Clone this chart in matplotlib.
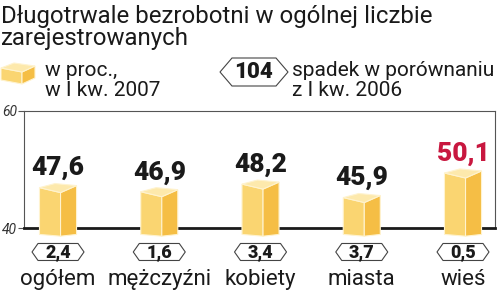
import matplotlib
matplotlib.use('Agg')
import matplotlib.pyplot as plt
import matplotlib.transforms as mtransforms
from matplotlib.patches import Polygon

plt.rcParams['font.family'] = ['Roboto', 'DejaVu Sans']

# data
categories = ['ogółem', 'mężczyźni', 'kobiety', 'miasta', 'wieś']
values = [47.6, 46.9, 48.2, 45.9, 50.1]
drops = [2.4, 1.6, 3.4, 3.7, 0.5]
label_colors = ['#1a1a1a', '#1a1a1a', '#1a1a1a', '#1a1a1a', '#c8173f']
y_ticks = [40, 60]

title_lines = ['Długotrwale bezrobotni w ogólnej liczbie', 'zarejestrowanych']
legend_bar_text = ['w proc.,', 'w I kw. 2007']
legend_hex_value = '104'
legend_hex_text = ['spadek w porównaniu', 'z I kw. 2006']

C_LEFT = '#fad571'
C_RIGHT = '#f5be45'
C_TOP = '#fde9ac'
C_EDGE = '#fff3cf'
INK = '#1a1a1a'

W, H = 500, 292
fig = plt.figure(figsize=(W / 100, H / 100), dpi=100)


def px(x, y):
    return (x / W, 1 - y / H)


def hexagon(w, h, inset):
    # vertices in inches (1 px = 0.01 in)
    w, h, inset = w / 200, h / 200, inset / 100
    return [(-w, 0), (-w + inset, h), (w - inset, h), (w, 0),
            (w - inset, -h), (-w + inset, -h)]


ax = fig.add_axes([px(24, 0)[0], px(0, 228)[1], (495 - 24) / W, (228 - 111) / H])
ax.set_xlim(-0.336, 4.316)
ax.set_ylim(40, 60)

# 3D-looking bars
hw = 0.183
for i, v in enumerate(values):
    L = (i - hw, v - 0.7)
    B = (i - 0.03, v)
    R = (i + hw, v - 0.35)
    F = (i + 0.025, v - 1.55)
    base_side, base_front = 38.9, 38.6
    left_face = [L, F, (F[0], base_front), (L[0], base_side)]
    right_face = [F, R, (R[0], base_side), (F[0], base_front)]
    top_face = [L, B, R, F]
    for pts, c in [(left_face, C_LEFT), (right_face, C_RIGHT), (top_face, C_TOP)]:
        xs, ys = zip(*pts)
        ax.fill(xs, ys, facecolor=c, edgecolor=C_EDGE, linewidth=0.8,
                clip_on=False, zorder=5)
    ax.annotate(f'{v:.1f}'.replace('.', ','), (i, v), xytext=(0, 6),
                textcoords='offset points', ha='center', va='baseline',
                fontsize=19, fontweight='black', color=label_colors[i],
                annotation_clip=False)

# hexagon badges under the bars
hex_y = 35.9
for i, d in enumerate(drops):
    tr = fig.dpi_scale_trans + mtransforms.ScaledTranslation(i, hex_y, ax.transData)
    ax.add_patch(Polygon(hexagon(52, 17, 6), closed=True, facecolor='white',
                         edgecolor='#444444', linewidth=0.8, transform=tr,
                         clip_on=False, zorder=4))
    ax.text(i, hex_y - 0.1, f'{d:.1f}'.replace('.', ','), ha='center', va='center',
            fontsize=13, fontweight='black', color=INK, zorder=6)
    ax.text(i, 30.3, categories[i], ha='center', va='baseline',
            fontsize=16, color=INK)

# frame
for s in ['left', 'top', 'right']:
    ax.spines[s].set_color('#555555')
    ax.spines[s].set_linewidth(0.8)
ax.spines['bottom'].set_color(INK)
ax.spines['bottom'].set_linewidth(2)
ax.set_xticks([])
ax.set_yticks(y_ticks)
ax.set_yticklabels([str(t) for t in y_ticks], fontsize=10, color='#333333',
                   fontstyle='italic')
ax.tick_params(axis='y', length=4, width=0.8, color='#555555', pad=1)
ax.patch.set_alpha(0)

# title
for line, y in zip(title_lines, [23, 45]):
    fig.text(*px(1, y), line, ha='left', va='baseline', fontsize=17.3, color=INK)

# legend: small box icon
box_top = [px(1, 68), px(14, 63), px(35, 66), px(22, 72)]
box_left = [px(1, 68), px(22, 72), px(22, 84), px(1, 80)]
box_right = [px(22, 72), px(35, 66), px(35, 78), px(22, 84)]
for pts, c in [(box_left, C_LEFT), (box_right, C_RIGHT), (box_top, C_TOP)]:
    fig.add_artist(Polygon(pts, closed=True, facecolor=c, edgecolor=C_EDGE,
                           linewidth=0.8, transform=fig.transFigure))
for line, y in zip(legend_bar_text, [76, 96]):
    fig.text(*px(45, y), line, ha='left', va='baseline', fontsize=15, color=INK)

# legend: hexagon badge
hx, hy = 254, 72
tr = fig.dpi_scale_trans + mtransforms.ScaledTranslation(*px(hx, hy), fig.transFigure)
fig.add_artist(Polygon(hexagon(68, 28, 12), closed=True, facecolor='white',
                       edgecolor='#444444', linewidth=0.8, transform=tr))
fig.text(*px(hx, hy), legend_hex_value, ha='center', va='center',
         fontsize=16, fontweight='black', color=INK)
for line, y in zip(legend_hex_text, [76, 96]):
    fig.text(*px(292, y), line, ha='left', va='baseline', fontsize=15, color=INK)

fig.savefig('out.png', dpi=100)
